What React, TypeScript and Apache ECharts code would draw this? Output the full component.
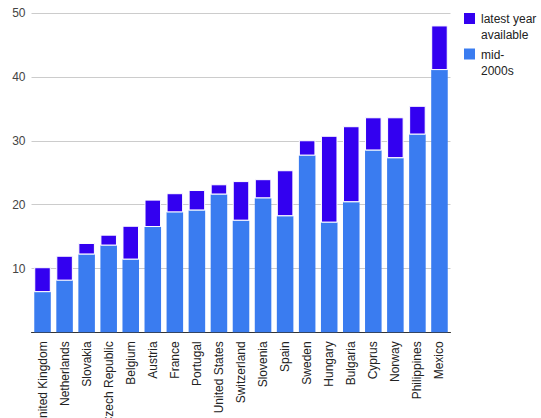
import React, { useEffect, useRef } from "react";
import * as echarts from "echarts";

const categories = [
  "United Kingdom", "Netherlands", "Slovakia", "Czech Republic", "Belgium",
  "Austria", "France", "Portugal", "United States", "Switzerland", "Slovenia",
  "Spain", "Sweden", "Hungary", "Bulgaria", "Cyprus", "Norway", "Philippines", "Mexico",
];

// lower (blue) segment
const mid2000s = [6.3, 8.1, 12.2, 13.6, 11.4, 16.5, 18.8, 19.1, 21.6, 17.5, 21.0, 18.2, 27.7, 17.2, 20.4, 28.5, 27.3, 31.0, 41.1];
// upper (purple) segment stacked on top
const latestYearAvailable = [3.9, 3.9, 1.8, 1.7, 5.3, 4.3, 3.0, 3.2, 1.6, 6.2, 3.0, 7.2, 2.4, 13.6, 11.9, 5.2, 6.4, 4.5, 7.0];

const yTicks = [0, 10, 20, 30, 40, 50];

const BLUE = "#3a7cf0";
const PURPLE = "#3300f0";
const FONT = "Arial, 'Liberation Sans', sans-serif";

export default function App() {
  const ref = useRef<HTMLDivElement>(null);
  useEffect(() => {
    if (!ref.current) return;
    const chart = echarts.init(ref.current, null, { renderer: "svg" });
    chart.setOption({
      animation: false,
      textStyle: { fontFamily: FONT },
      grid: {
        left: 31.5,
        right: 90.5,
        top: 13.3,
        bottom: 85.7,
        containLabel: false,
        outerBoundsMode: "none",
      },
      xAxis: {
        type: "category",
        data: categories,
        axisLine: { show: true, lineStyle: { color: "#333", width: 1 } },
        axisTick: { show: false },
        axisLabel: {
          rotate: 90,
          interval: 0,
          margin: 9,
          fontSize: 12,
          color: "#222",
          fontFamily: FONT,
        },
      },
      yAxis: {
        type: "value",
        min: yTicks[0],
        max: yTicks[yTicks.length - 1],
        interval: 10,
        axisLine: { show: false },
        axisTick: { show: false },
        splitLine: { lineStyle: { color: "#cccccc", width: 1 } },
        axisLabel: {
          margin: 6,
          fontSize: 12,
          color: "#444",
          fontFamily: FONT,
          formatter: (v: number) => (v === 0 ? "" : String(v)),
        },
      },
      series: [
        {
          name: "mid-2000s",
          type: "bar",
          stack: "total",
          data: mid2000s,
          barWidth: "75%",
          itemStyle: { color: BLUE },
        },
        {
          name: "latest year available",
          type: "bar",
          stack: "total",
          data: latestYearAvailable,
          barWidth: "75%",
          itemStyle: { color: PURPLE, borderColor: "#fff", borderWidth: 1 },
        },
      ],
      graphic: [
        { type: "rect", left: 464, top: 13, shape: { width: 11, height: 11 }, style: { fill: PURPLE } },
        {
          type: "text",
          left: 481,
          top: 11,
          style: { text: "latest year\navailable", font: `12px ${FONT}`, fill: "#222", lineHeight: 16 },
        },
        { type: "rect", left: 464, top: 48.5, shape: { width: 11, height: 11 }, style: { fill: BLUE } },
        {
          type: "text",
          left: 481,
          top: 46.5,
          style: { text: "mid-\n2000s", font: `12px ${FONT}`, fill: "#222", lineHeight: 16 },
        },
      ],
    });
    return () => chart.dispose();
  }, []);
  return (
    <div
      ref={ref}
      style={{ position: "absolute", left: 0, top: 0, width: 541, height: 418, background: "#fff" }}
    />
  );
}
